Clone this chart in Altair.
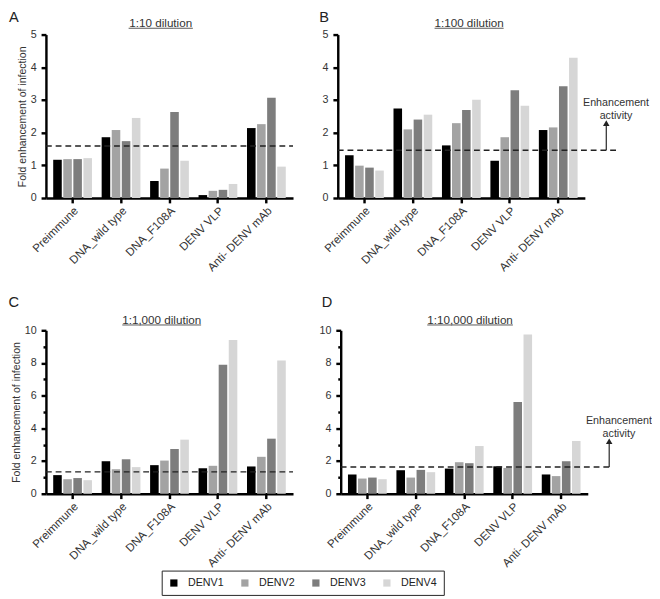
import altair as alt
import pandas as pd

groups = ["Preimmune", "DNA_wild type", "DNA_F108A", "DENV VLP", "Anti- DENV mAb"]
serotypes = ["DENV1", "DENV2", "DENV3", "DENV4"]
bar_colors = ["#000000", "#a3a3a3", "#7d7d7d", "#d6d6d6"]

# Panel A: 1:10 dilution
a_denv1 = [1.17, 1.86, 0.52, 0.09, 2.14]
a_denv2 = [1.19, 2.08, 0.90, 0.22, 2.26]
a_denv3 = [1.19, 1.74, 2.63, 0.25, 3.07]
a_denv4 = [1.22, 2.45, 1.14, 0.43, 0.96]
a_threshold = 1.59

# Panel B: 1:100 dilution
b_denv1 = [1.31, 2.74, 1.61, 1.14, 2.08]
b_denv2 = [0.99, 2.10, 2.29, 1.86, 2.16]
b_denv3 = [0.93, 2.40, 2.69, 3.30, 3.42]
b_denv4 = [0.84, 2.55, 3.01, 2.82, 4.29]
b_threshold = 1.46

# Panel C: 1:1,000 dilution
c_denv1 = [1.14, 1.99, 1.75, 1.56, 1.67]
c_denv2 = [0.89, 1.50, 2.03, 1.71, 2.26]
c_denv3 = [0.96, 2.11, 2.74, 7.89, 3.37]
c_denv4 = [0.83, 1.63, 3.31, 9.41, 8.15]
c_threshold = 1.34

# Panel D: 1:10,000 dilution
d_denv1 = [1.18, 1.44, 1.54, 1.68, 1.18]
d_denv2 = [0.93, 0.99, 1.93, 1.58, 1.08]
d_denv3 = [0.99, 1.46, 1.87, 5.62, 1.99]
d_denv4 = [0.89, 1.32, 2.92, 9.74, 3.23]
d_threshold = 1.64

FONT = "Liberation Sans"
W, H = 254, 168


def make_df(series):
    rows = []
    for s, vals in zip(serotypes, series):
        for g, v in zip(groups, vals):
            rows.append({"group": g, "serotype": s, "value": v})
    return pd.DataFrame(rows)


def one(text=""):
    return pd.DataFrame({"t": [text]})


def panel(letter, title, series, thr, ymax, ytitle, cfg):
    df = make_df(series)
    if ymax == 5:
        yaxis = alt.Axis(values=list(range(0, 6)), tickSize=5, title=ytitle, labelPadding=5)
    else:
        yaxis = alt.Axis(
            values=list(range(0, 11)),
            labelExpr="datum.value % 2 == 0 ? datum.label : ''",
            tickSize={"condition": {"test": "datum.value % 2 == 1", "value": 3}, "value": 5},
            title=ytitle, labelPadding=5,
        )
    yenc = alt.Y("value:Q", scale=alt.Scale(domain=[0, ymax], nice=False), axis=yaxis)
    bars = alt.Chart(df).mark_bar().encode(
        x=alt.X("group:N", sort=groups,
                scale=alt.Scale(paddingInner=0.2, paddingOuter=0.15),
                axis=alt.Axis(title=None, labelAngle=-45, tickSize=5, labelFontSize=11.8)),
        xOffset=alt.XOffset("serotype:N", sort=serotypes, scale=alt.Scale(paddingInner=0.15)),
        y=yenc,
        color=alt.Color("serotype:N", scale=alt.Scale(domain=serotypes, range=bar_colors),
                        legend=alt.Legend(title=None, orient="none", direction="horizontal",
                                          columns=4, legendX=119, legendY=551,
                                          symbolType="square", symbolSize=55,
                                          symbolStrokeWidth=0, labelFontSize=11,
                                          labelFont=FONT, labelColor="#222",
                                          labelOffset=9, columnPadding=16,
                                          strokeColor="#222", padding=7)),
    )
    thr_df = pd.DataFrame({"value": [thr]})
    dashed = alt.Chart(thr_df).mark_rule(strokeDash=[6, 4], color="#222", strokeWidth=1.4).encode(
        y=yenc, x=alt.value(0), x2=alt.value(W + cfg["ext"]))
    letter_t = alt.Chart(one(letter)).mark_text(
        fontSize=15, font=FONT, color="#222", align="center", baseline="middle").encode(
        text="t:N", x=alt.value(cfg["lx"]), y=alt.value(cfg["ly"]))
    title_t = alt.Chart(one(title)).mark_text(
        fontSize=12, font=FONT, color="#333", align="center", baseline="middle").encode(
        text="t:N", x=alt.value(cfg["tx"]), y=alt.value(cfg["ty"]))
    underline = alt.Chart(one()).mark_rule(color="#555", strokeWidth=1).encode(
        x=alt.value(cfg["tx"] - cfg["tw"] / 2), x2=alt.value(cfg["tx"] + cfg["tw"] / 2),
        y=alt.value(cfg["ty"] + 5.5))
    layers = [bars, dashed, letter_t, title_t, underline]
    if cfg.get("arrow") is not None:
        ax = W + 22
        tip = cfg["arrow"]
        shaft = alt.Chart(thr_df).mark_rule(color="#222", strokeWidth=1.2).encode(
            y=yenc, x=alt.value(ax), y2=alt.value(tip + 4))
        head = alt.Chart(one()).mark_point(shape="triangle-up", filled=True, size=45,
                                           color="#222", opacity=1).encode(
            x=alt.value(ax), y=alt.value(tip + 3))
        ann = alt.Chart(one("Enhancement\nactivity")).mark_text(
            fontSize=11, font=FONT, color="#333", align="center", baseline="top",
            lineBreak="\n", lineHeight=13.5).encode(
            text="t:N", x=alt.value(W + 32), y=alt.value(cfg["annY"]))
        layers += [shaft, head, ann]
    return alt.layer(*layers).properties(width=W, height=H)


yt = "Fold enhancement of infection"
pA = panel("A", "1:10 dilution", [a_denv1, a_denv2, a_denv3, a_denv4], a_threshold, 5, yt,
           {"ext": 0, "lx": -33, "ly": -18, "tx": W / 2 - 9, "ty": -12, "tw": 66})
pB = panel("B", "1:100 dilution", [b_denv1, b_denv2, b_denv3, b_denv4], b_threshold, 5, None,
           {"ext": 33, "lx": -14, "ly": -18, "tx": W / 2 + 8, "ty": -12, "tw": 71,
            "arrow": 88, "annY": 64})
pC = panel("C", "1:1,000 dilution", [c_denv1, c_denv2, c_denv3, c_denv4], c_threshold, 10, yt,
           {"ext": 0, "lx": -33, "ly": -29, "tx": W / 2 - 8, "ty": -11, "tw": 81})
pD = panel("D", "1:10,000 dilution", [d_denv1, d_denv2, d_denv3, d_denv4], d_threshold, 10, None,
           {"ext": 24, "lx": -14, "ly": -29, "tx": W / 2 + 6, "ty": -11, "tw": 88,
            "arrow": 111, "annY": 87})

chart = alt.vconcat(
    alt.hconcat(pA, pB, spacing=25),
    alt.hconcat(pC, pD, spacing=25),
    spacing=22,
).properties(padding={"top": -6, "left": 0, "right": 0, "bottom": 0}).configure_view(
    stroke=None).configure_axis(
    grid=False, domainColor="#000", domainWidth=2.5, tickColor="#000", tickWidth=2.5,
    labelFont=FONT, labelFontSize=11, labelColor="#333", labelPadding=2,
    titleFont=FONT, titleFontSize=10.8, titleFontWeight="normal", titleColor="#333",
    titlePadding=3,
)

chart.save("out.html", embed_options={"renderer": "svg", "actions": False})
